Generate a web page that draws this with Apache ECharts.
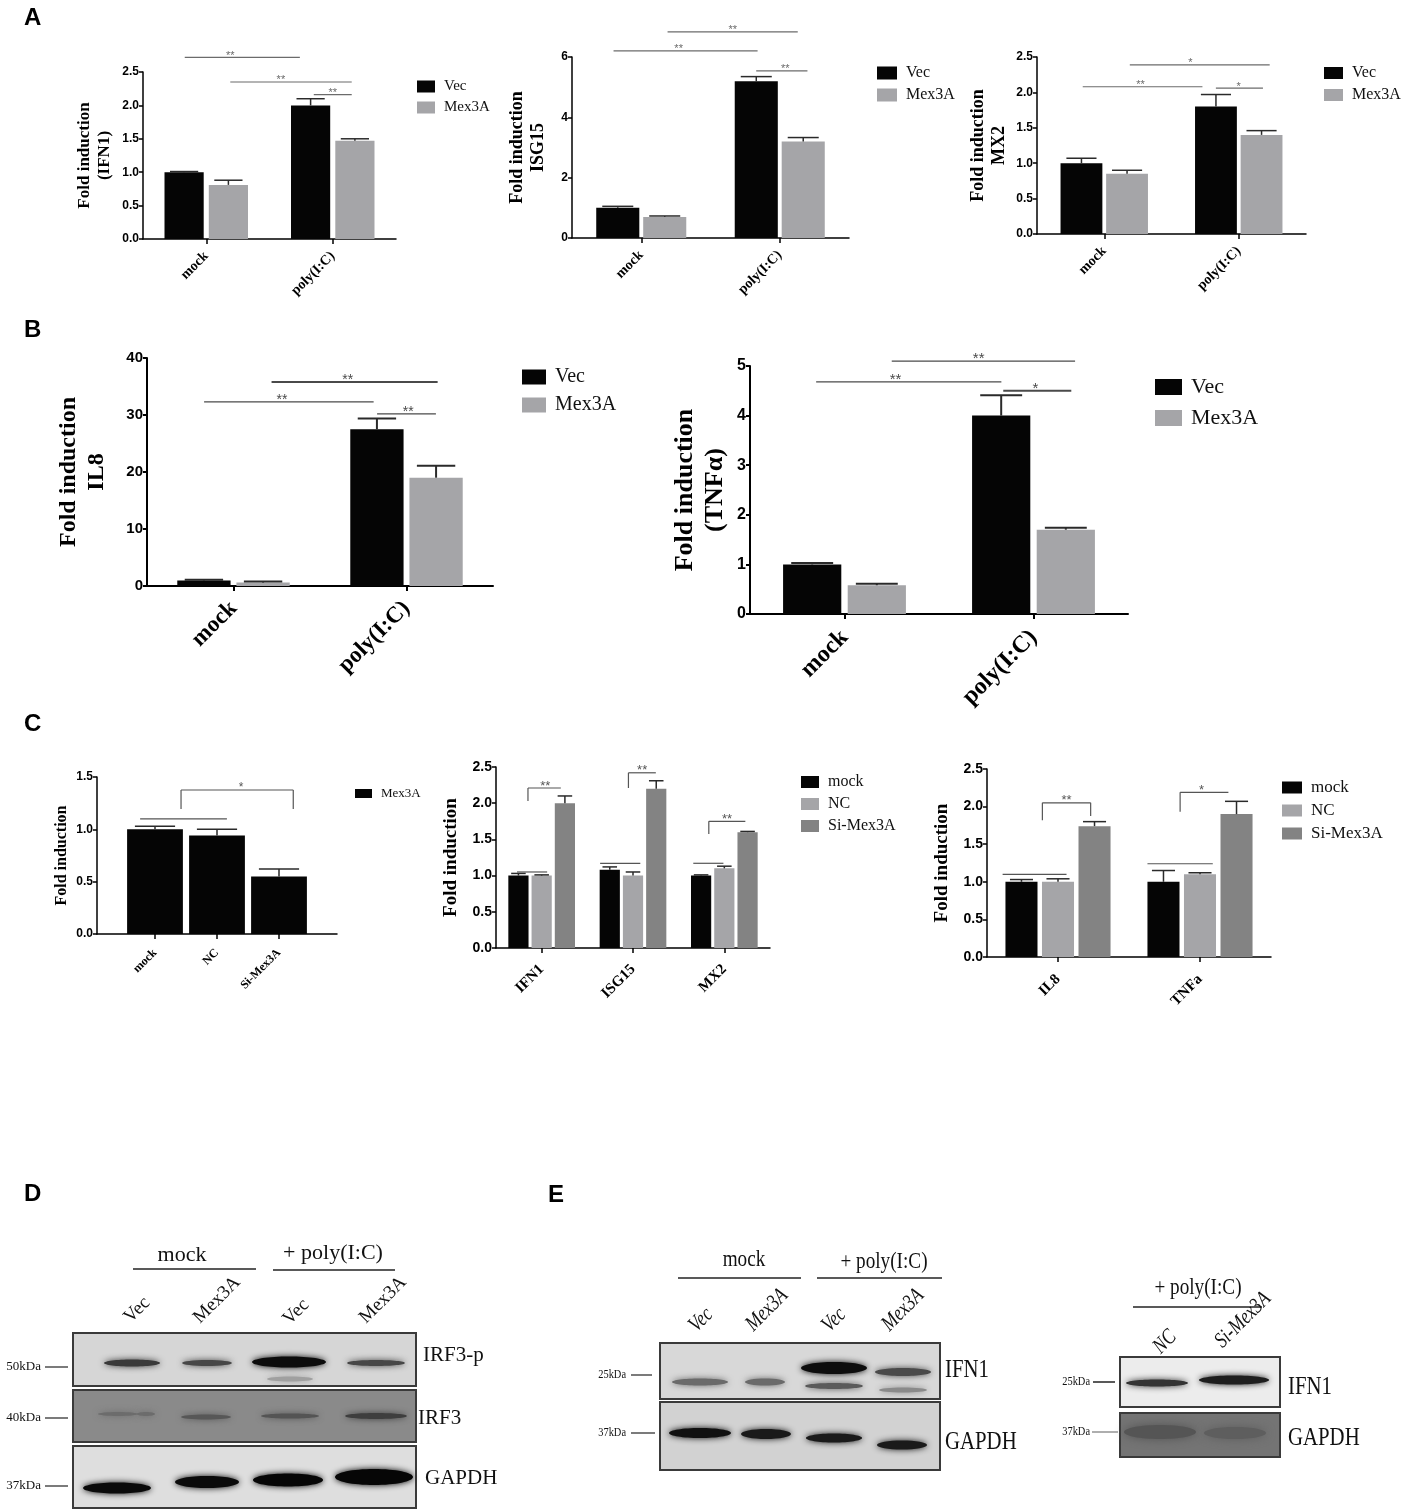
<!DOCTYPE html>
<html>
<head>
<meta charset="utf-8">
<title>Mex3A fold induction and blots</title>
<script src="https://cdn.jsdelivr.net/npm/echarts@6/dist/echarts.min.js"></script>
<style>
html, body { margin: 0; padding: 0; background: #fff; }
#main { width: 1403px; height: 1510px; }
</style>
</head>
<body>
<div id="main"></div>
<script>
// ---------- data ----------
var treatCats = ['mock', 'poly(I:C)'];
var siCats = ['mock', 'NC', 'Si-Mex3A'];
var ifnCats = ['IFN1', 'ISG15', 'MX2'];
var cytCats = ['IL8', 'TNFa'];

// A  (mean, error)
var ifn1Vec = [1.00, 2.00],  ifn1VecErr = [0.01, 0.10];
var ifn1Mex = [0.81, 1.47],  ifn1MexErr = [0.07, 0.03];
var isg15Vec = [1.00, 5.20], isg15VecErr = [0.05, 0.15];
var isg15Mex = [0.70, 3.20], isg15MexErr = [0.03, 0.13];
var mx2Vec = [1.00, 1.80],   mx2VecErr = [0.07, 0.17];
var mx2Mex = [0.85, 1.40],   mx2MexErr = [0.05, 0.06];
// B
var il8Vec = [0.95, 27.5],   il8VecErr = [0.15, 1.9];
var il8Mex = [0.60, 19.0],   il8MexErr = [0.20, 2.1];
var tnfVec = [1.00, 4.00],   tnfVecErr = [0.03, 0.41];
var tnfMex = [0.58, 1.70],   tnfMexErr = [0.03, 0.04];
// C
var knock = [1.00, 0.94, 0.55],   knockErr = [0.03, 0.06, 0.07];
var ifnMock = [1.00, 1.08, 1.00], ifnMockErr = [0.03, 0.04, 0.01];
var ifnNC = [1.00, 1.00, 1.10],   ifnNCErr = [0.01, 0.05, 0.03];
var ifnSi = [2.00, 2.20, 1.60],   ifnSiErr = [0.10, 0.11, 0.01];
var cytMock = [1.00, 1.00], cytMockErr = [0.03, 0.15];
var cytNC = [1.00, 1.10],   cytNCErr = [0.04, 0.02];
var cytSi = [1.74, 1.90],   cytSiErr = [0.06, 0.17];

// y axis ticks: [min, max, interval]
var rangeA1 = [0, 2.5, 0.5], rangeA2 = [0, 6, 2], rangeA3 = [0, 2.5, 0.5];
var rangeB1 = [0, 40, 10], rangeB2 = [0, 5, 1];
var rangeC1 = [0, 1.5, 0.5], rangeC2 = [0, 2.5, 0.5], rangeC3 = [0, 2.5, 0.5];

// significance marks: [x1, x2, y, textX, text, leftLegTo, rightLegTo, lineWidth]
// x in category units from the first category centre, y in axis units
var sigA1 = [[-0.17, 0.74, 2.72, 0.19, '**'], [0.19, 1.15, 2.35, 0.59, '**'], [0.85, 1.15, 2.16, 1.00, '**']];
var sigA2 = [[0.19, 1.13, 6.83, 0.66, '**'], [-0.20, 0.84, 6.20, 0.27, '**'], [0.83, 1.20, 5.54, 1.04, '**']];
var sigA3 = [[0.19, 1.23, 2.39, 0.64, '*'], [-0.16, 0.73, 2.08, 0.27, '**'], [0.83, 1.18, 2.06, 1.00, '*']];
var sigB1 = [[0.22, 1.18, 35.8, 0.66, '**', null, null, 2], [-0.17, 0.81, 32.3, 0.28, '**'], [0.83, 1.17, 30.2, 1.01, '**']];
var sigB2 = [[0.25, 1.22, 5.10, 0.71, '**'], [-0.15, 0.83, 4.68, 0.27, '**'], [0.84, 1.20, 4.50, 1.01, '*', null, null, 2]];
var sigC1 = [[0.42, 2.23, 1.376, 1.39, '*', 1.194, 1.194], [-0.24, 1.16, 1.10, 0, '']];
var sigC2 = [[-0.15, 0.21, 2.21, 0.04, '**', 2.03, null], [-0.27, 0.06, 1.05, 0, ''],
             [0.95, 1.25, 2.42, 1.10, '**', 2.21, null], [0.64, 1.08, 1.17, 0, ''],
             [1.83, 2.23, 1.75, 2.03, '**', 1.575, null], [1.66, 1.99, 1.17, 0, '']];
var sigC3 = [[-0.11, 0.23, 2.05, 0.06, '**', 1.82, 1.875], [-0.39, 0.06, 1.10, 0, ''],
             [0.86, 1.20, 2.19, 1.01, '*', 1.93, null], [0.63, 1.09, 1.24, 0, '']];

var BLACK = '#050505', GRAY = '#a5a5a8', DARK = '#838383';
var SERIF = '"Liberation Serif", "Times New Roman", serif';
var SANS = '"Liberation Sans", Arial, sans-serif';

var chartDefs = [
    { box: [143, 72, 253, 167], cats: treatCats, range: rangeA1, dec: 1,
      name: 'Fold induction\n(IFN1)', nameSize: 17, nameLh: 20, nameGap: 28,
      tick: 12, cat: 14, catMargin: 15, lw: 1.5, catGap: 34, barGap: 13,
      bars: [['Vec', ifn1Vec, ifn1VecErr, BLACK], ['Mex3A', ifn1Mex, ifn1MexErr, GRAY]],
      legend: [412, 74, 18, 12, 15, 6], sig: sigA1, sigSize: 11, sigColor: '#6b6b6b' },
    { box: [572, 57, 277, 181], cats: treatCats, range: rangeA2, dec: 0,
      name: 'Fold induction\nISG15', nameSize: 18, nameLh: 21, nameGap: 23,
      tick: 12, cat: 14, catMargin: 15, lw: 1.5, catGap: 35, barGap: 9,
      bars: [['Vec', isg15Vec, isg15VecErr, BLACK], ['Mex3A', isg15Mex, isg15MexErr, GRAY]],
      legend: [872, 60, 20, 13, 16, 6], sig: sigA2, sigSize: 11, sigColor: '#6b6b6b' },
    { box: [1037, 57, 269, 177], cats: treatCats, range: rangeA3, dec: 1,
      name: 'Fold induction\nMX2', nameSize: 18, nameLh: 21, nameGap: 27,
      tick: 12, cat: 14, catMargin: 15, lw: 1.5, catGap: 35, barGap: 9,
      bars: [['Vec', mx2Vec, mx2VecErr, BLACK], ['Mex3A', mx2Mex, mx2MexErr, GRAY]],
      legend: [1319, 60, 19, 12, 16, 6], sig: sigA3, sigSize: 11, sigColor: '#6b6b6b' },
    { box: [147, 358, 346, 228], cats: treatCats, range: rangeB1, dec: 0,
      name: 'Fold induction\nIL8', nameSize: 24, nameLh: 28, nameGap: 36,
      tick: 15, cat: 23, catMargin: 19, lw: 2, catGap: 35, barGap: 11,
      bars: [['Vec', il8Vec, il8VecErr, BLACK], ['Mex3A', il8Mex, il8MexErr, GRAY]],
      legend: [517, 362, 24, 15, 20, 8], sig: sigB1, sigSize: 14, sigColor: '#4a4a4a' },
    { box: [750, 366, 378, 248], cats: treatCats, range: rangeB2, dec: 0,
      name: 'Fold induction\n(TNF\u03b1)', nameSize: 26, nameLh: 30, nameGap: 20,
      tick: 16, cat: 24, catMargin: 20, lw: 2, catGap: 35, barGap: 11,
      bars: [['Vec', tnfVec, tnfVecErr, BLACK], ['Mex3A', tnfMex, tnfMexErr, GRAY]],
      legend: [1150, 371, 27, 16, 22, 9], sig: sigB2, sigSize: 15, sigColor: '#4a4a4a' },
    { frame: [97, 777, 240, 157], box: [124, 777, 186, 157], cats: siCats, range: rangeC1, dec: 1,
      name: 'Fold induction', nameSize: 16, nameLh: 18, nameGap: 26,
      tick: 12, cat: 12, catMargin: 17, lw: 1.5, catGap: 10, barGap: 10,
      bars: [['Mex3A', knock, knockErr, BLACK]],
      legend: [350, 782, 17, 9, 13, 6], sig: sigC1, sigSize: 12, sigColor: '#555' },
    { box: [496, 767, 274, 181], cats: ifnCats, range: rangeC2, dec: 1,
      name: 'Fold induction', nameSize: 19, nameLh: 21, nameGap: 34,
      tick: 14, cat: 15, catMargin: 19, lw: 1.5, catGap: 27, barGap: 15,
      bars: [['mock', ifnMock, ifnMockErr, BLACK], ['NC', ifnNC, ifnNCErr, GRAY], ['Si-Mex3A', ifnSi, ifnSiErr, DARK]],
      legend: [796, 769, 18, 12, 16, 6], sig: sigC2, sigSize: 13, sigColor: '#555' },
    { box: [987, 769, 284, 188], cats: cytCats, range: rangeC3, dec: 1,
      name: 'Fold induction', nameSize: 19, nameLh: 21, nameGap: 34,
      tick: 14, cat: 15, catMargin: 20, lw: 1.5, catGap: 26, barGap: 14,
      bars: [['mock', cytMock, cytMockErr, BLACK], ['NC', cytNC, cytNCErr, GRAY], ['Si-Mex3A', cytSi, cytSiErr, DARK]],
      legend: [1277, 774, 20, 12, 17, 6], sig: sigC3, sigSize: 13, sigColor: '#555' }
];

var option = { animation: false, backgroundColor: '#fff', grid: [], xAxis: [], yAxis: [], series: [], legend: [], graphic: [] };

function yAxisOf(c, gi, visible) {
    return {
        type: 'value', gridIndex: gi, show: visible,
        min: c.range[0], max: c.range[1], interval: c.range[2],
        name: c.name, nameLocation: 'middle', nameRotate: 90, nameGap: c.nameGap,
        nameTextStyle: { fontFamily: SERIF, fontWeight: 'bold', fontSize: c.nameSize, lineHeight: c.nameLh, color: '#000' },
        axisLine: { show: true, lineStyle: { color: '#000', width: c.lw } },
        axisTick: { show: true, length: 4, lineStyle: { color: '#000', width: c.lw } },
        axisLabel: { fontFamily: SANS, fontWeight: 'bold', fontSize: c.tick, color: '#000', margin: 4,
            formatter: function (v) { return v.toFixed(c.dec); } },
        splitLine: { show: false }
    };
}

function errSeries(gi, vals, errs, k, n, c) {
    return {
        type: 'custom', xAxisIndex: gi, yAxisIndex: gi, z: 4, silent: true,
        data: vals.map(function (v, j) { return [j, v, errs[j]]; }),
        renderItem: function (params, api) {
            var j = api.value(0), v = api.value(1), e = api.value(2);
            var band = api.size([1, 0])[0];
            var total = band * (1 - c.catGap / 100);
            var bw = total / (n + (n - 1) * c.barGap / 100);
            var cx = api.coord([j, v])[0] - total / 2 + k * bw * (1 + c.barGap / 100) + bw / 2;
            var yBar = api.coord([j, v])[1], yTop = api.coord([j, v + e])[1];
            var cap = bw * 0.36;
            var st = { stroke: '#2a2a2a', lineWidth: c.lw };
            return { type: 'group', children: [
                { type: 'line', shape: { x1: cx, y1: yBar, x2: cx, y2: yTop }, style: st },
                { type: 'line', shape: { x1: cx - cap, y1: yTop, x2: cx + cap, y2: yTop }, style: st }
            ] };
        }
    };
}

function sigSeries(gi, c) {
    var list = c.sig;
    return {
        type: 'custom', xAxisIndex: gi, yAxisIndex: gi, z: 5, silent: true,
        data: list.map(function (s) { return [0, s[2]]; }),
        renderItem: function (params, api) {
            var s = list[params.dataIndex];
            var base = api.coord([0, s[2]]);
            var band = api.size([1, 0])[0];
            var x1 = base[0] + s[0] * band, x2 = base[0] + s[1] * band, y = base[1];
            var st = { stroke: c.sigColor, lineWidth: s[7] || 1.2 };
            var kids = [{ type: 'line', shape: { x1: x1, y1: y, x2: x2, y2: y }, style: st }];
            if (s[5] != null) kids.push({ type: 'line', shape: { x1: x1, y1: y, x2: x1, y2: api.coord([0, s[5]])[1] }, style: st });
            if (s[6] != null) kids.push({ type: 'line', shape: { x1: x2, y1: y, x2: x2, y2: api.coord([0, s[6]])[1] }, style: st });
            if (s[4]) kids.push({ type: 'text', x: base[0] + s[3] * band, y: y + c.sigSize * 0.35,
                style: { text: s[4], fill: c.sigColor, font: c.sigSize + 'px ' + SANS, align: 'center', verticalAlign: 'bottom' } });
            return { type: 'group', children: kids };
        }
    };
}

chartDefs.forEach(function (c) {
    var gi;
    if (c.frame) {
        // outer frame: y axis and full-width baseline
        gi = option.grid.length;
        option.grid.push({ left: c.frame[0], top: c.frame[1], width: c.frame[2], height: c.frame[3] });
        option.xAxis.push({ type: 'value', gridIndex: gi, min: 0, max: 1,
            axisLine: { show: true, onZero: false, lineStyle: { color: '#000', width: c.lw } },
            axisTick: { show: false }, axisLabel: { show: false }, splitLine: { show: false } });
        option.yAxis.push(yAxisOf(c, gi, true));
    }
    gi = option.grid.length;
    option.grid.push({ left: c.box[0], top: c.box[1], width: c.box[2], height: c.box[3] });
    option.xAxis.push({
        type: 'category', gridIndex: gi, data: c.cats,
        axisLine: { show: !c.frame, lineStyle: { color: '#000', width: c.lw } },
        axisTick: { show: true, alignWithLabel: true, length: 5, lineStyle: { color: '#000', width: c.lw } },
        axisLabel: { rotate: 45, fontFamily: SERIF, fontWeight: 'bold', fontSize: c.cat, color: '#000', margin: c.catMargin, interval: 0 }
    });
    option.yAxis.push(yAxisOf(c, gi, !c.frame));

    var n = c.bars.length;
    c.bars.forEach(function (b, k) {
        option.series.push({
            type: 'bar', name: b[0], xAxisIndex: gi, yAxisIndex: gi, data: b[1],
            barCategoryGap: c.catGap + '%', barGap: c.barGap + '%',
            itemStyle: { color: b[3] }, silent: true, z: 2
        });
        option.series.push(errSeries(gi, b[1], b[2], k, n, c));
    });
    option.series.push(sigSeries(gi, c));

    option.legend.push({
        left: c.legend[0], top: c.legend[1], orient: 'vertical', icon: 'rect',
        itemWidth: c.legend[2], itemHeight: c.legend[3], itemGap: c.legend[5], selectedMode: false,
        data: c.bars.map(function (b) { return { name: b[0], itemStyle: { color: b[3] } }; }),
        textStyle: { fontFamily: SERIF, fontSize: c.legend[4], color: '#111', padding: [0, 0, 0, 4] }
    });
});

// ---------- panel letters, western blots (drawn as shapes) ----------
var g = option.graphic;
function letter(s, x, y) {
    g.push({ type: 'text', x: x, y: y, style: { text: s, font: 'bold 24px ' + SANS, fill: '#000', align: 'left', verticalAlign: 'top' } });
}
function txt(s, x, y, size, align, opt) {
    opt = opt || {};
    g.push({ type: 'text', x: x, y: y, rotation: opt.rot || 0, scaleX: opt.sx || 1,
        style: { text: s, font: (opt.italic ? 'italic ' : '') + size + 'px ' + SERIF, fill: opt.fill || '#111',
            align: align, verticalAlign: 'middle' } });
}
function hline(x1, x2, y, w, col) {
    g.push({ type: 'line', shape: { x1: x1, y1: y, x2: x2, y2: y }, style: { stroke: col || '#222', lineWidth: w || 1.5 } });
}
function box(x, y, w, h, fill) {
    g.push({ type: 'rect', shape: { x: x, y: y, width: w, height: h }, style: { fill: fill, stroke: '#3a3a3a', lineWidth: 2 } });
}
function band(cx, cy, w, h, col, blur) {
    g.push({ type: 'ellipse', shape: { cx: cx, cy: cy, rx: w / 2, ry: h / 2 },
        style: { fill: col, shadowBlur: blur == null ? 6 : blur, shadowColor: col } });
}

letter('A', 24, 6);
letter('B', 24, 318);
letter('C', 24, 712);
letter('D', 24, 1182);
letter('E', 548, 1183);

// D
var R45 = Math.PI / 4;
txt('mock', 182, 1255, 22, 'center');
hline(133, 256, 1269, 1.5);
txt('+ poly(I:C)', 333, 1253, 22, 'center');
hline(273, 395, 1270, 1.5);
txt('Vec', 137, 1310, 19, 'center', { rot: R45 });
txt('Mex3A', 217, 1300, 19, 'center', { rot: R45 });
txt('Vec', 296, 1312, 19, 'center', { rot: R45 });
txt('Mex3A', 383, 1300, 19, 'center', { rot: R45 });

box(73, 1333, 343, 53, '#d6d6d6');
band(132, 1363, 56, 7, '#3a3a3a');
band(207, 1363, 50, 6, '#474747');
band(289, 1362, 74, 11, '#0c0c0c');
band(290, 1379, 46, 5, '#a0a0a0');
band(376, 1363, 58, 6, '#474747');

box(73, 1390, 343, 52, '#8a8a8a');
band(118, 1414, 40, 4, '#6c6c6c');
band(146, 1414, 18, 4, '#6c6c6c');
band(206, 1417, 50, 5, '#575757');
band(290, 1416, 58, 5, '#545454');
band(376, 1416, 62, 6, '#3e3e3e');

box(73, 1446, 343, 62, '#dedede');
band(117, 1488, 68, 11, '#0a0a0a');
band(207, 1482, 64, 12, '#0a0a0a');
band(288, 1480, 70, 13, '#060606');
band(374, 1477, 78, 16, '#060606');

txt('IRF3-p', 423, 1355, 21, 'left');
txt('IRF3', 418, 1418, 21, 'left');
txt('GAPDH', 425, 1478, 21, 'left');
txt('50kDa', 41, 1367, 13, 'right');
hline(45, 68, 1367, 1.2);
txt('40kDa', 41, 1418, 13, 'right');
hline(45, 68, 1418, 1.2);
txt('37kDa', 41, 1486, 13, 'right');
hline(45, 68, 1486, 1.2);

// E, left blot
var SX = 0.8;
txt('mock', 744, 1260, 24, 'center', { sx: SX });
hline(678, 801, 1278, 1.5);
txt('+ poly(I:C)', 884, 1262, 24, 'center', { sx: SX });
hline(817, 942, 1278, 1.5);
txt('Vec', 701, 1320, 22, 'center', { rot: R45, sx: SX, italic: true });
txt('Mex3A', 767, 1310, 22, 'center', { rot: R45, sx: SX, italic: true });
txt('Vec', 834, 1320, 22, 'center', { rot: R45, sx: SX, italic: true });
txt('Mex3A', 903, 1310, 22, 'center', { rot: R45, sx: SX, italic: true });

box(660, 1343, 280, 56, '#d8d8d8');
band(700, 1382, 56, 7, '#6a6a6a');
band(765, 1382, 40, 7, '#6a6a6a');
band(834, 1368, 66, 12, '#0d0d0d');
band(834, 1386, 58, 6, '#5a5a5a');
band(903, 1372, 56, 8, '#4a4a4a');
band(903, 1390, 48, 5, '#8a8a8a');

box(660, 1402, 280, 68, '#d2d2d2');
band(700, 1433, 62, 10, '#111');
band(766, 1434, 50, 10, '#1a1a1a');
band(834, 1438, 56, 9, '#1a1a1a');
band(902, 1445, 50, 9, '#1a1a1a');

txt('IFN1', 945, 1370, 26, 'left', { sx: SX });
txt('GAPDH', 945, 1442, 26, 'left', { sx: SX });
txt('25kDa', 626, 1375, 13, 'right', { sx: SX });
hline(631, 652, 1375, 1.2);
txt('37kDa', 626, 1433, 13, 'right', { sx: SX });
hline(631, 655, 1433, 1.2);

// E, right blot
txt('+ poly(I:C)', 1198, 1288, 24, 'center', { sx: SX });
hline(1133, 1262, 1307, 1.5);
txt('NC', 1165, 1342, 22, 'center', { rot: R45, sx: SX, italic: true });
txt('Si-Mex3A', 1243, 1320, 22, 'center', { rot: R45, sx: SX, italic: true });

box(1120, 1357, 160, 50, '#ececec');
band(1157, 1383, 62, 7, '#333');
band(1234, 1380, 70, 9, '#1e1e1e');

box(1120, 1413, 160, 44, '#747474');
band(1160, 1432, 72, 14, '#555', 10);
band(1235, 1433, 62, 12, '#5e5e5e', 10);

txt('IFN1', 1288, 1387, 26, 'left', { sx: SX });
txt('GAPDH', 1288, 1438, 26, 'left', { sx: SX });
txt('25kDa', 1090, 1382, 13, 'right', { sx: SX });
hline(1093, 1115, 1382, 1.5);
txt('37kDa', 1090, 1432, 13, 'right', { sx: SX });
hline(1092, 1118, 1432, 1.2, '#777');

var myChart = echarts.init(document.getElementById('main'));
myChart.setOption(option);
</script>
</body>
</html>
